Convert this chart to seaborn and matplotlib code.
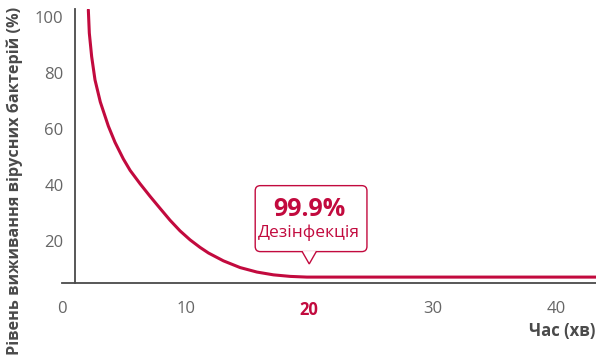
import numpy as np
import matplotlib
matplotlib.use("Agg")
import matplotlib.pyplot as plt
import matplotlib.patches as mpatches
import pandas as pd
import seaborn as sns

# survival curve (minutes, %)
minutes = [2.13, 2.21, 2.40, 2.67, 3.10, 3.75, 4.29, 4.96, 5.51, 6.32, 7.13, 7.94, 8.74, 9.55,
           10.36, 11.17, 11.85, 13.06, 14.41, 15.77, 17.11, 18.46, 19.81, 22.0, 26.0, 30.0, 35.0, 40.0, 43.2]
survival = [102.5, 94.2, 85.8, 77.5, 69.6, 61.0, 55.2, 49.3, 45.2, 40.4, 35.9, 31.6, 27.4, 23.6,
            20.4, 17.7, 15.7, 12.9, 10.5, 8.9, 7.9, 7.35, 7.1, 7.1, 7.1, 7.1, 7.1, 7.1, 7.1]

x_ticks = [0, 10, 20, 30, 40]
y_ticks = [20, 40, 60, 80, 100]
highlight_min = 20
callout_value = "99.9%"
callout_text = "Дезінфекція"

RED = "#c20a3e"
GREY = "#666666"
DARK = "#4a4a4a"

sns.set_style("white")
plt.rcParams['font.family'] = ['Open Sans', 'DejaVu Sans']

df = pd.DataFrame({"min": minutes, "surv": survival})

fig = plt.figure(figsize=(5.96, 3.6), dpi=100)
ax = fig.add_axes([62 / 596, (360 - 282.7) / 360, (596 - 62) / 596, (282.7 - 9.3) / 360])

sns.lineplot(data=df, x="min", y="surv", color=RED, linewidth=2.2, ax=ax,
             solid_joinstyle='round')

ax.set_xlim(0, 43.2)
ax.set_ylim(5.1, 102.7)
ax.spines['left'].set_position(('data', 1.03))
for s in ['top', 'right']:
    ax.spines[s].set_visible(False)
for s in ['left', 'bottom']:
    ax.spines[s].set_color(DARK)
    ax.spines[s].set_linewidth(1.3)

ax.set_xticks(x_ticks)
ax.set_xticklabels([str(v) for v in x_ticks])
ax.set_yticks(y_ticks)
ax.tick_params(axis='both', length=0, labelsize=12, labelcolor=GREY)
ax.tick_params(axis='x', pad=13)
ax.tick_params(axis='y', pad=8)
for lab in ax.get_xticklabels():
    if lab.get_text() == str(highlight_min):
        lab.set_color(RED)
        lab.set_fontweight('bold')

ax.set_xlabel("")
ax.set_ylabel("")
fig.text(595 / 596, 1 - 331 / 360, "Час (хв)", ha='right', va='center',
         fontsize=12, fontweight='bold', color=DARK)
fig.text(15 / 596, 1 - 181 / 360, "Рівень виживання вірусних бактерій (%)", rotation=90,
         ha='center', va='center', fontsize=11.7, fontweight='bold', color=DARK)

# callout bubble
box_l, box_r, box_b, box_t = 15.63, 24.67, 16.2, 39.75
tip_y = 11.8
half_w = 0.57
aspect = 12.35 / 2.8
box = mpatches.FancyBboxPatch((box_l, box_b), box_r - box_l, box_t - box_b,
                              boxstyle="round,pad=0,rounding_size=0.42",
                              mutation_aspect=aspect, fc='white', ec=RED, lw=1.0,
                              zorder=5, clip_on=False)
ax.add_patch(box)
tri = mpatches.Polygon([(highlight_min - half_w, box_b + 0.2), (highlight_min + half_w, box_b + 0.2),
                        (highlight_min, tip_y)], closed=True, fc='white', ec='none', zorder=6)
ax.add_patch(tri)
ax.plot([highlight_min - half_w, highlight_min, highlight_min + half_w], [box_b, tip_y, box_b],
        color=RED, lw=1.0, zorder=7, solid_joinstyle='miter')
ax.text(highlight_min, 31.4, callout_value, ha='center', va='center', fontsize=18,
        fontweight='bold', color=RED, zorder=8)
ax.text(highlight_min, 22.9, callout_text, ha='center', va='center', fontsize=12.5,
        color=RED, zorder=8)

fig.savefig("out.png", dpi=100)
